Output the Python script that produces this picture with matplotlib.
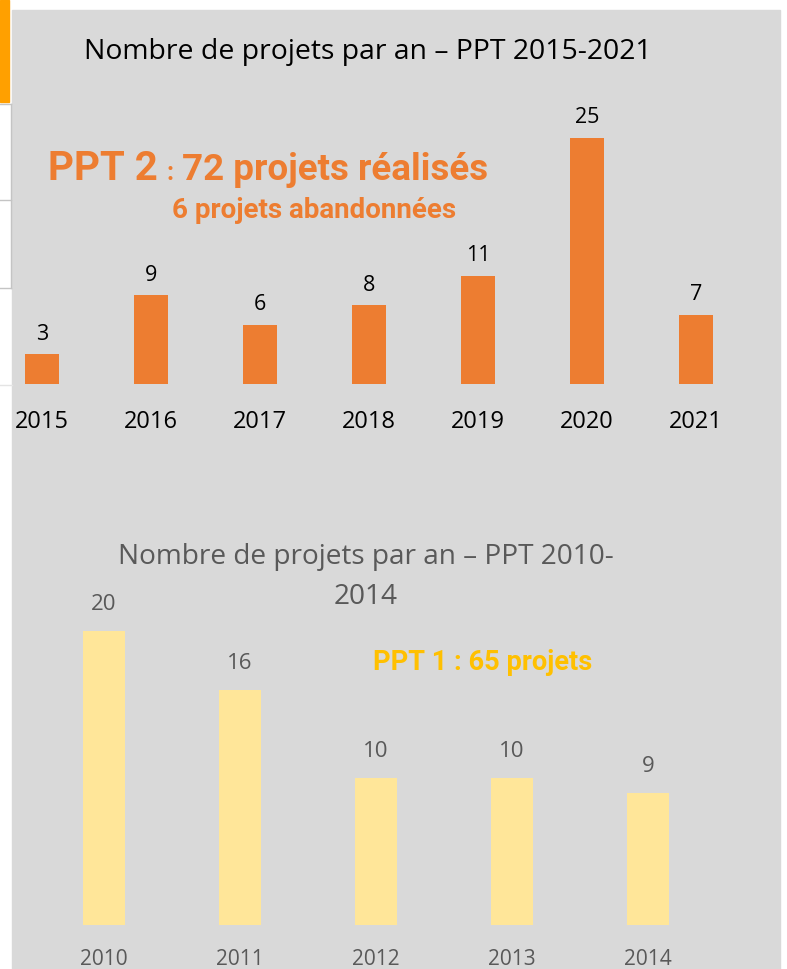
import matplotlib
matplotlib.use("Agg")
import matplotlib.pyplot as plt
from matplotlib.patches import Rectangle
from matplotlib.lines import Line2D

# data
years_ppt2 = ["2015", "2016", "2017", "2018", "2019", "2020", "2021"]
projets_ppt2 = [3, 9, 6, 8, 11, 25, 7]
years_ppt1 = ["2010", "2011", "2012", "2013", "2014"]
projets_ppt1 = [20, 16, 10, 10, 9]

W, H = 787, 969
BG = "#d9d9d9"
ORANGE = "#ed7d31"
GOLD = "#ffc000"
PALE = "#ffe699"
GREY_TXT = "#595959"
FONT = ["Open Sans", "DejaVu Sans"]
NARROW = ["Liberation Sans Narrow", "Roboto", "DejaVu Sans"]


def fx(x):
    return x / W


def fy(y):
    return 1 - y / H


fig = plt.figure(figsize=(W / 100, H / 100), dpi=100)
fig.patch.set_facecolor("white")

# grey panel + bits of the page on the left
fig.patches.append(Rectangle((fx(12), 0), fx(780) - fx(12), fy(10),
                             transform=fig.transFigure, color=BG, zorder=-2))
fig.patches.append(Rectangle((0, fy(102)), fx(9), 1 - fy(102),
                             transform=fig.transFigure, color="#ffa000", zorder=-2))
for y in [104, 200, 288]:
    fig.lines.append(Line2D([0, fx(11)], [fy(y), fy(y)], transform=fig.transFigure,
                            color="#c4c4c4", lw=1, zorder=-1))
fig.lines.append(Line2D([fx(11), fx(11)], [fy(104), fy(288)], transform=fig.transFigure,
                        color="#c4c4c4", lw=1, zorder=-1))
fig.lines.append(Line2D([0, fx(12)], [fy(385), fy(385)], transform=fig.transFigure,
                        color="#e4e4e4", lw=1, zorder=-1))


def make_axes(top, bottom, c0, step, k, n):
    ax = fig.add_axes([fx(12), fy(bottom), fx(780) - fx(12), fy(top) - fy(bottom)])
    ax.set_facecolor("none")
    ax.set_xlim((12 - c0) / step, (780 - c0) / step)
    ax.set_ylim(0, (bottom - top) / k)
    for s in ax.spines.values():
        s.set_visible(False)
    ax.tick_params(length=0)
    ax.set_yticks([])
    ax.set_xticks(range(n))
    return ax


# top chart: PPT 2015-2021
ax1 = make_axes(100, 384, 42, 109, 9.85, len(years_ppt2))
x1 = range(len(years_ppt2))
bars = ax1.bar(x1, projets_ppt2, width=0.312, color=ORANGE)
ax1.set_xticklabels(years_ppt2, fontsize=17, family=FONT, color="black")
ax1.tick_params(axis="x", pad=19)
for b, v in zip(bars, projets_ppt2):
    ax1.annotate(str(v), (b.get_x() + b.get_width() / 2, v), xytext=(0, 14.5),
                 textcoords="offset points", ha="center", va="center",
                 fontsize=15.5, family=FONT, color="black")

fig.text(fx(368), fy(52), "Nombre de projets par an – PPT 2015-2021", ha="center",
         va="center", fontsize=20.4, family=FONT, color="black")
fig.text(fx(48), fy(180), "PPT 2", ha="left", va="baseline", fontsize=29,
         family=NARROW, weight="bold", color=ORANGE)
fig.text(fx(166), fy(180), ":", ha="left", va="baseline", fontsize=18,
         family=NARROW, weight="bold", color=ORANGE)
fig.text(fx(182), fy(180), "72 projets réalisés", ha="left", va="baseline",
         fontsize=26.5, family=NARROW, weight="bold", color=ORANGE)
fig.text(fx(172), fy(218), "6 projets abandonnées", ha="left", va="baseline",
         fontsize=20, family=NARROW, weight="bold", color=ORANGE)

# bottom chart: PPT 2010-2014
ax2 = make_axes(580, 925, 104, 136, 14.7, len(years_ppt1))
x2 = range(len(years_ppt1))
bars = ax2.bar(x2, projets_ppt1, width=0.31, color=PALE)
ax2.set_xticklabels(years_ppt1, fontsize=15, family=FONT, color=GREY_TXT)
ax2.tick_params(axis="x", pad=17)
for b, v in zip(bars, projets_ppt1):
    ax2.annotate(str(v), (b.get_x() + b.get_width() / 2, v), xytext=(0, 19),
                 textcoords="offset points", ha="center", va="center",
                 fontsize=16, family=FONT, color=GREY_TXT)

fig.text(fx(366), fy(577), "Nombre de projets par an – PPT 2010-\n2014", ha="center",
         va="center", fontsize=20.2, family=FONT, color=GREY_TXT, linespacing=1.58)
fig.text(fx(483), fy(663), "PPT 1 : 65 projets", ha="center", va="center",
         fontsize=19.6, family=NARROW, weight="bold", color=GOLD)

fig.savefig("out.png", dpi=100)
